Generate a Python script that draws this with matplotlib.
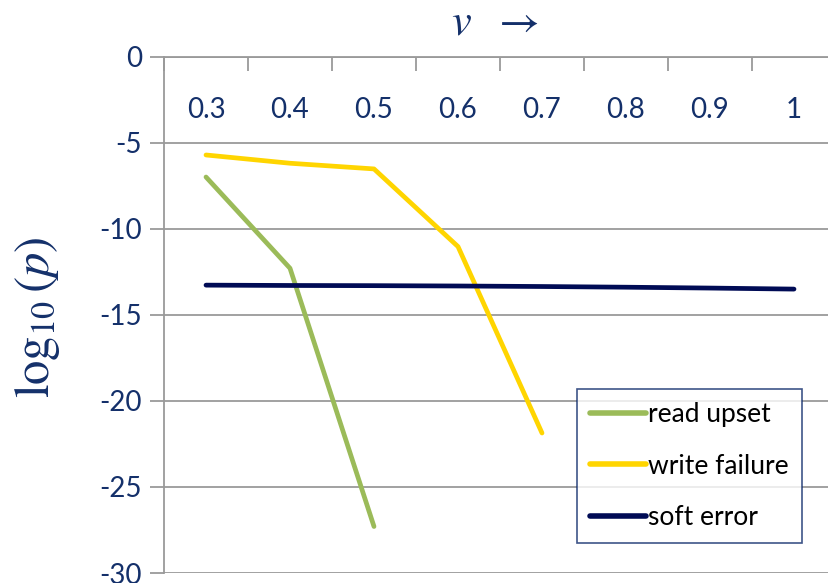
import matplotlib
matplotlib.use("Agg")
import matplotlib.pyplot as plt
from matplotlib.ticker import FixedLocator, NullFormatter

# Supply voltage categories and log10 failure probabilities
voltages = ["0.3", "0.4", "0.5", "0.6", "0.7", "0.8", "0.9", "1"]
read_upset = [-7.0, -12.3, -27.3]
write_failure = [-5.72, -6.2, -6.53, -11.04, -21.87]
soft_error = [-13.28, -13.3, -13.31, -13.33, -13.36, -13.4, -13.45, -13.51]

text_color = "#14306A"
grid_color = "#9A9A9A"
colors = {"read upset": "#9BBB59", "write failure": "#FFD500", "soft error": "#000B55"}

plt.rcParams["font.family"] = ["Lato", "DejaVu Sans"]
plt.rcParams["mathtext.fontset"] = "stix"

W, H = 829, 583
fig = plt.figure(figsize=(W / 100, H / 100), dpi=100)
left, right, top, bottom = 164, 836, 56.5, 573
ax = fig.add_axes([left / W, 1 - bottom / H, (right - left) / W, (bottom - top) / H])

idx = list(range(len(voltages)))
lw = 3.4
ax.plot(idx[:len(read_upset)], read_upset, color=colors["read upset"], lw=lw,
        solid_capstyle="round", solid_joinstyle="round", label="read upset", zorder=3)
ax.plot(idx[:len(write_failure)], write_failure, color=colors["write failure"], lw=lw,
        solid_capstyle="round", solid_joinstyle="round", label="write failure", zorder=3)
ax.plot(idx, soft_error, color=colors["soft error"], lw=lw,
        solid_capstyle="round", solid_joinstyle="round", label="soft error", zorder=3)

ax.set_xlim(-0.5, len(voltages) - 0.5)
ax.set_ylim(-30, 0)

# y axis: gridlines every 5, outward ticks
ax.set_yticks(range(-30, 1, 5))
ax.set_yticklabels([str(v) for v in range(-30, 1, 5)])
ax.yaxis.grid(True, color=grid_color, lw=1.3)
ax.tick_params(axis="y", direction="out", length=10, width=1.3, color=grid_color,
               labelsize=20, labelcolor=text_color, pad=6)

# x axis sits on top at y = 0, labels below it
ax.xaxis.set_ticks_position("top")
ax.xaxis.set_label_position("top")
ax.set_xticks(idx)
ax.set_xticklabels(voltages)
ax.xaxis.set_minor_locator(FixedLocator([i - 0.5 for i in range(len(voltages) + 1)]))
ax.xaxis.set_minor_formatter(NullFormatter())
ax.tick_params(axis="x", which="major", length=0, labelsize=20, labelcolor=text_color, pad=-48)
ax.tick_params(axis="x", which="minor", direction="in", length=10, width=1.3, color=grid_color)

for side in ("right", "bottom"):
    ax.spines[side].set_visible(False)
for side in ("left", "top"):
    ax.spines[side].set_color(grid_color)
    ax.spines[side].set_linewidth(1.3)

fig.text(38 / W, 1 - 317 / H, r"$\log_{10}(p)$", rotation=90, ha="center", va="center",
         fontsize=35, color=text_color)
fig.text(495 / W, 1 - 22 / H, r"$v\ \ \rightarrow$", ha="center", va="center",
         fontsize=32, color=text_color)

leg = ax.legend(loc="upper left", bbox_to_anchor=(577 / W, 1 - 389 / H),
                bbox_transform=fig.transFigure, borderaxespad=0, fontsize=19,
                handlelength=2.1, handletextpad=0.1, labelspacing=1.0,
                borderpad=0.5, frameon=True, fancybox=False)
leg.get_frame().set_edgecolor("#0E2A6B")
leg.get_frame().set_linewidth(1.2)
for h in leg.get_lines():
    h.set_linewidth(4)
    h.set_solid_capstyle("round")

fig.savefig("out.png", dpi=100)
